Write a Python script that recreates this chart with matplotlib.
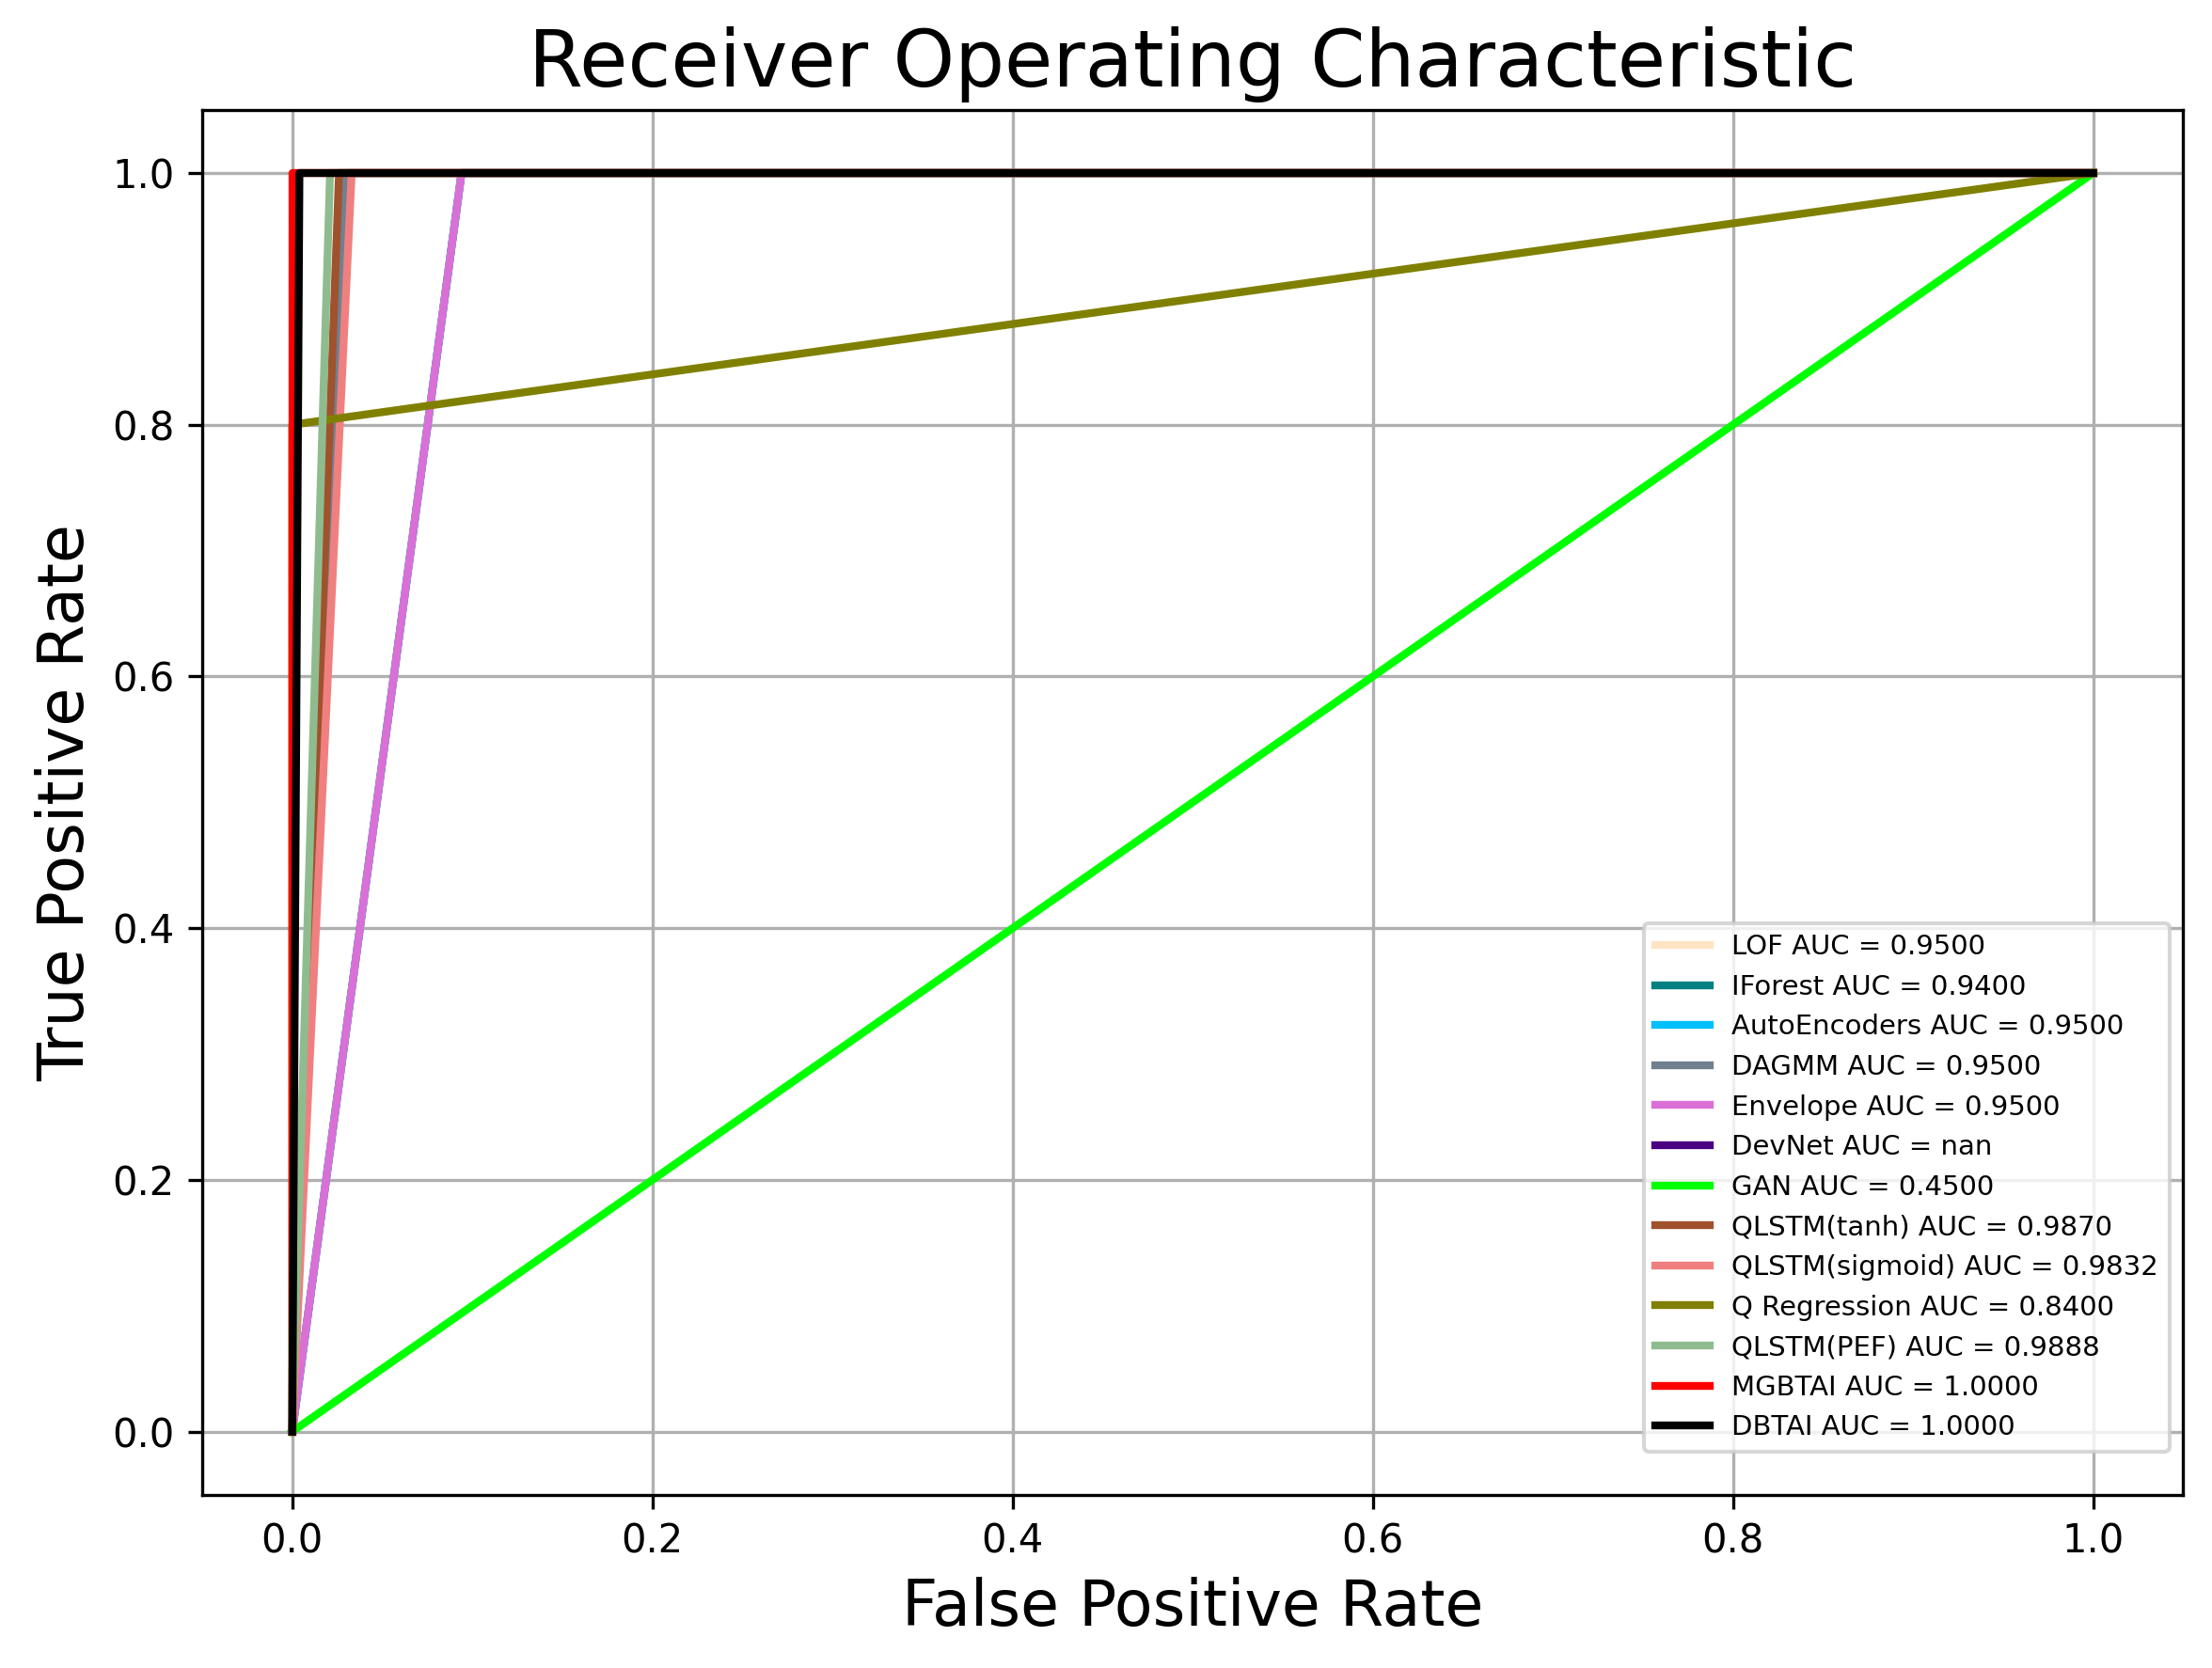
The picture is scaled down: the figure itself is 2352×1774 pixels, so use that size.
import numpy as np
import matplotlib
matplotlib.use("Agg")
import matplotlib.pyplot as plt

models = ["LOF", "IForest", "AutoEncoders", "DAGMM", "Envelope", "DevNet", "GAN",
          "QLSTM(tanh)", "QLSTM(sigmoid)", "Q Regression", "QLSTM(PEF)", "MGBTAI", "DBTAI"]
auc_labels = ["0.9500", "0.9400", "0.9500", "0.9500", "0.9500", "nan", "0.4500",
              "0.9870", "0.9832", "0.8400", "0.9888", "1.0000", "1.0000"]
colors = ["bisque", "teal", "deepskyblue", "slategray", "orchid", "indigo", "lime",
          "sienna", "lightcoral", "olive", "darkseagreen", "red", "black"]

fpr_lof = [0.0, 0.094, 1.0]
tpr_lof = [0.0, 1.0, 1.0]
fpr_iforest = [0.0, 0.094, 1.0]
tpr_iforest = [0.0, 1.0, 1.0]
fpr_ae = [0.0, 0.094, 1.0]
tpr_ae = [0.0, 1.0, 1.0]
fpr_dagmm = [0.0, 0.030, 1.0]
tpr_dagmm = [0.0, 1.0, 1.0]
fpr_env = [0.0, 0.094, 1.0]
tpr_env = [0.0, 1.0, 1.0]
fpr_devnet = [np.nan, np.nan]
tpr_devnet = [np.nan, np.nan]
fpr_gan = [0.0, 1.0]
tpr_gan = [0.0, 1.0]
fpr_tanh = [0.0, 0.026, 1.0]
tpr_tanh = [0.0, 1.0, 1.0]
fpr_sigm = [0.0, 0.033, 1.0]
tpr_sigm = [0.0, 1.0, 1.0]
fpr_qreg = [0.0, 0.0, 1.0]
tpr_qreg = [0.0, 0.8, 1.0]
fpr_pef = [0.0, 0.021, 1.0]
tpr_pef = [0.0, 1.0, 1.0]
fpr_mgbtai = [0.0, 0.0, 1.0]
tpr_mgbtai = [0.0, 1.0, 1.0]
fpr_dbtai = [0.0, 0.004, 1.0]
tpr_dbtai = [0.0, 1.0, 1.0]

fprs = [fpr_lof, fpr_iforest, fpr_ae, fpr_dagmm, fpr_env, fpr_devnet, fpr_gan,
        fpr_tanh, fpr_sigm, fpr_qreg, fpr_pef, fpr_mgbtai, fpr_dbtai]
tprs = [tpr_lof, tpr_iforest, tpr_ae, tpr_dagmm, tpr_env, tpr_devnet, tpr_gan,
        tpr_tanh, tpr_sigm, tpr_qreg, tpr_pef, tpr_mgbtai, tpr_dbtai]

ticks = [0.0, 0.2, 0.4, 0.6, 0.8, 1.0]

fig = plt.figure(figsize=(2352 / 300, 1774 / 300), dpi=300)
ax = fig.add_axes([0.0914, 0.104, 0.8956, 0.830])

for name, auc, c, f, t in zip(models, auc_labels, colors, fprs, tprs):
    ax.plot(f, t, color=c, lw=2, label=f"{name} AUC = {auc}")

ax.set_xticks(ticks)
ax.set_yticks(ticks)
ax.tick_params(labelsize=10)
ax.grid(True)
ax.set_title("Receiver Operating Characteristic", fontsize=20)
ax.set_xlabel("False Positive Rate", fontsize=16)
ax.set_ylabel("True Positive Rate", fontsize=16)
ax.legend(loc="lower right", fontsize=7, bbox_to_anchor=(1.0, 0.021))

fig.savefig("out.png", dpi=300)
